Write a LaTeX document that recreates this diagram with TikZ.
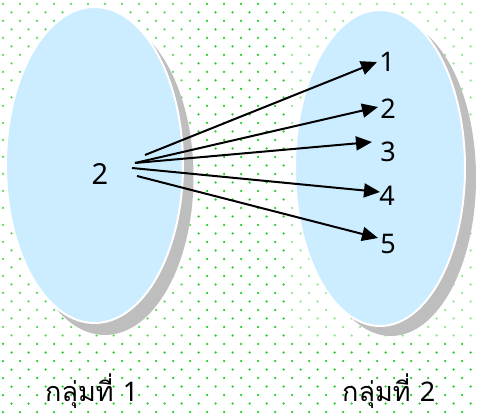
\documentclass[tikz,border=0pt]{standalone}
\usepackage{fontspec}
\setmainfont{Noto Sans}
\newfontfamily\thaifont[Script=Thai]{Loma}
\newfontfamily\numfont{Noto Sans}
\usetikzlibrary{arrows.meta}
\definecolor{dotgreen}{RGB}{30,205,30}
\definecolor{setblue}{RGB}{204,236,255}
\definecolor{shadowgray}{RGB}{190,190,190}
\tikzset{
  setfill/.style={fill=setblue,draw=white,line width=2pt},
  setshadow/.style={fill=shadowgray,draw=none},
  numlabel/.style={inner sep=0pt,font=\numfont\fontsize{27}{32}\selectfont},
  grouplabel/.style={inner sep=0pt,anchor=base west,font=\fontsize{27}{32}\selectfont},
  maparrow/.style={line width=2pt,-{Triangle[length=16pt,width=14pt]}},
  fadebox/.style={fill=white,draw=none}
}
\begin{document}
\begin{tikzpicture}[x=1pt,y=-1pt]
\useasboundingbox (0,0) rectangle (477,414);
\fill[white] (0,0) rectangle (477,414);
% dotted background
\foreach \j in {0,...,48}{
  \pgfmathsetmacro{\yy}{4+8.5*\j}
  \pgfmathsetmacro{\off}{mod(\j,2)*8.5}
  \foreach \i in {0,...,28}{
    \fill[dotgreen] ({3+\off+17*\i},\yy) circle[radius=1.25pt];
  }
}
% faded boxes behind ellipses
\fill[fadebox,opacity=0.25] (0,0) rectangle (197,338);
\fill[fadebox,opacity=0.5] (290,0) rectangle (477,338);
% left set
\fill[setshadow] (105,177) ellipse[x radius=88.5pt,y radius=158pt];
\path[setfill] (94.5,165) ellipse[x radius=88.5pt,y radius=158pt];
% right set
\fill[setshadow] (391,178) ellipse[x radius=85pt,y radius=158pt];
\path[setfill] (380,168) ellipse[x radius=85pt,y radius=158pt];
% labels
\node[numlabel,font=\numfont\fontsize{29}{34}\selectfont] (a) at (100,174) {2};
\node[numlabel] (b1) at (387,62) {1};
\node[numlabel] (b2) at (388,109) {2};
\node[numlabel] (b3) at (388,152) {3};
\node[numlabel] (b4) at (387,196) {4};
\node[numlabel] (b5) at (388,244) {5};
% arrow ends
\coordinate (s1) at (145,155);
\coordinate (s2) at (135,163);
\coordinate (s4) at (132,168);
\coordinate (s5) at (137,176);
\coordinate (t1) at (377,62);
\coordinate (t2) at (378,107);
\coordinate (t3) at (372,142);
\coordinate (t4) at (380,192);
\coordinate (t5) at (378,238);
\draw[maparrow] (s1) -- (t1);
\draw[maparrow] (s2) -- (t2);
\draw[maparrow] (s2) -- (t3);
\draw[maparrow] (s4) -- (t4);
\draw[maparrow] (s5) -- (t5);
% group labels
\node[grouplabel] (g1) at (45,401) {\thaifont กลุ่มที่ \numfont 1};
\node[grouplabel] (g2) at (342,401) {\thaifont กลุ่มที่ \numfont 2};
\end{tikzpicture}
\end{document}
